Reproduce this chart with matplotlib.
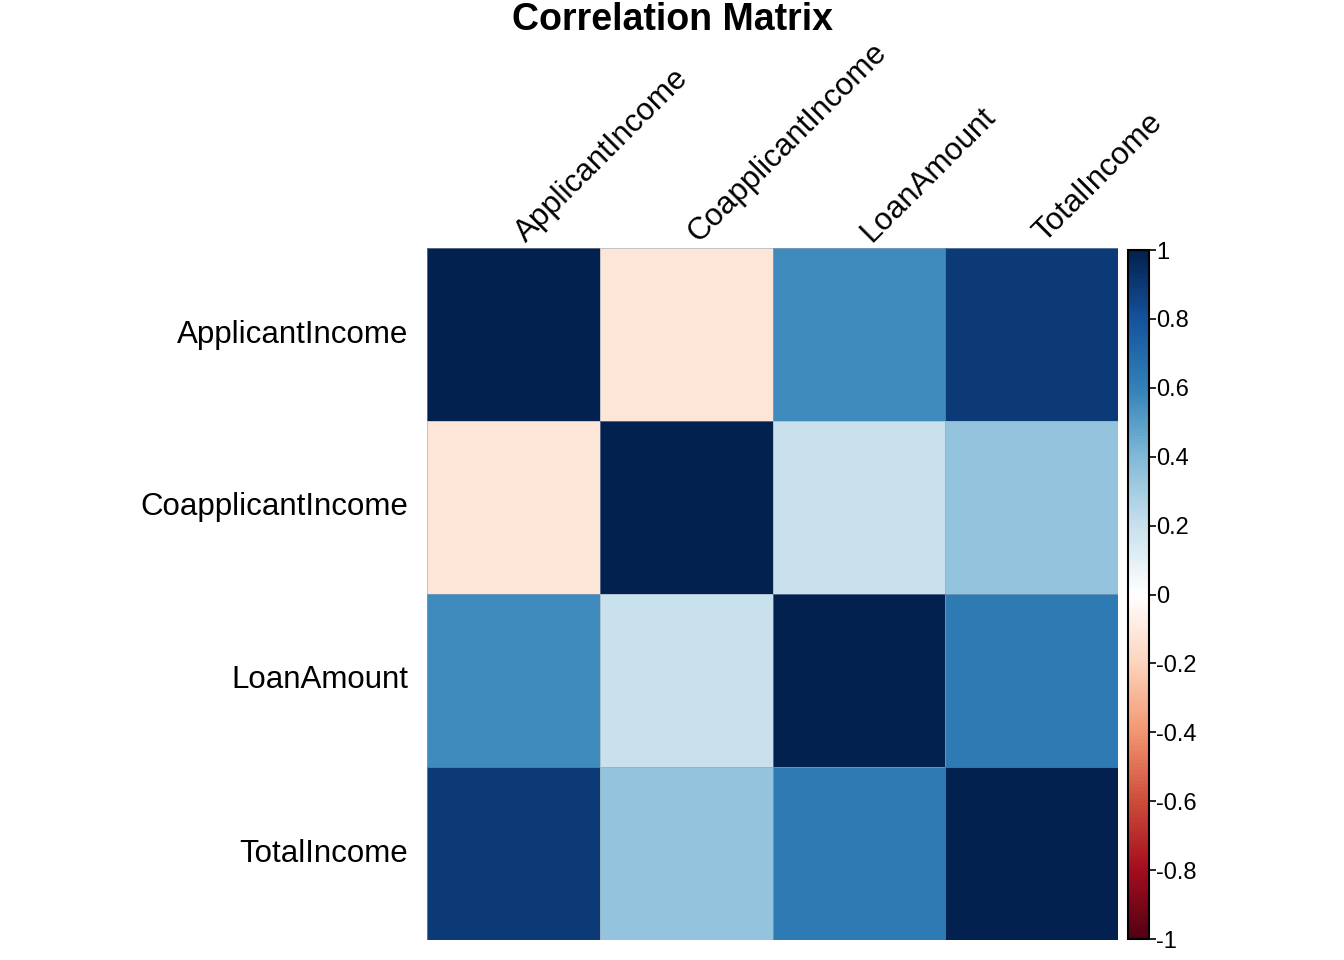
import numpy as np
import matplotlib
matplotlib.use('Agg')
import matplotlib.pyplot as plt
from matplotlib.colors import LinearSegmentedColormap, Normalize
from matplotlib.colorbar import ColorbarBase

plt.rcParams['font.family'] = ['Liberation Sans', 'DejaVu Sans']

names = ['ApplicantIncome', 'CoapplicantIncome', 'LoanAmount', 'TotalIncome']
corr = np.array([
    [1.00, -0.12, 0.57, 0.89],
    [-0.12, 1.00, 0.19, 0.34],
    [0.57, 0.19, 1.00, 0.62],
    [0.89, 0.34, 0.62, 1.00],
])
# RdBu palette as it shows in the picture (a bit darker than the usual hex)
palette = ['#540013', '#A40E1D', '#CE4D3B', '#F29670', '#FCD4BC', '#FFFFFF',
           '#C8E0ED', '#81BAD7', '#3282B8', '#15539E', '#02214E']
bar_ticks = [-1, -0.8, -0.6, -0.4, -0.2, 0, 0.2, 0.4, 0.6, 0.8, 1]

cmap = LinearSegmentedColormap.from_list('rdbu', palette, N=200)
norm = Normalize(-1, 1)

W, H = 1344, 960
fig = plt.figure(figsize=(W / 100, H / 100), dpi=100)

# main matrix
ax = fig.add_axes([427 / W, (H - 940) / H, 691 / W, 692 / H])
n = len(names)
ax.pcolormesh(np.arange(n + 1), np.arange(n + 1), corr, cmap=cmap, norm=norm,
              edgecolors=(0.6, 0.65, 0.72, 0.55), linewidth=0.6)
ax.set_xlim(0, n)
ax.set_ylim(n, 0)
ax.axis('off')

for i, nm in enumerate(names):
    ax.text(-0.11, i + 0.5, nm, ha='right', va='center', fontsize=22.5)
    ax.text(i + 0.6, 0.0, nm, ha='left', va='bottom', fontsize=22.5,
            rotation=45, rotation_mode='anchor')

# colour legend
cax = fig.add_axes([1128 / W, (H - 939) / H, 21 / W, 689 / H])
cb = ColorbarBase(cax, cmap=cmap, norm=norm, orientation='vertical')
cb.set_ticks(bar_ticks)
cb.set_ticklabels([f'{t:g}' for t in bar_ticks])
cb.outline.set_linewidth(1.5)
cax.tick_params(labelsize=17, length=5, width=1.2, pad=0)

fig.text(672 / W, 1 - 20 / H, 'Correlation Matrix', ha='center', va='center',
         fontsize=27, fontweight='bold')

fig.savefig('out.png', dpi=100)
